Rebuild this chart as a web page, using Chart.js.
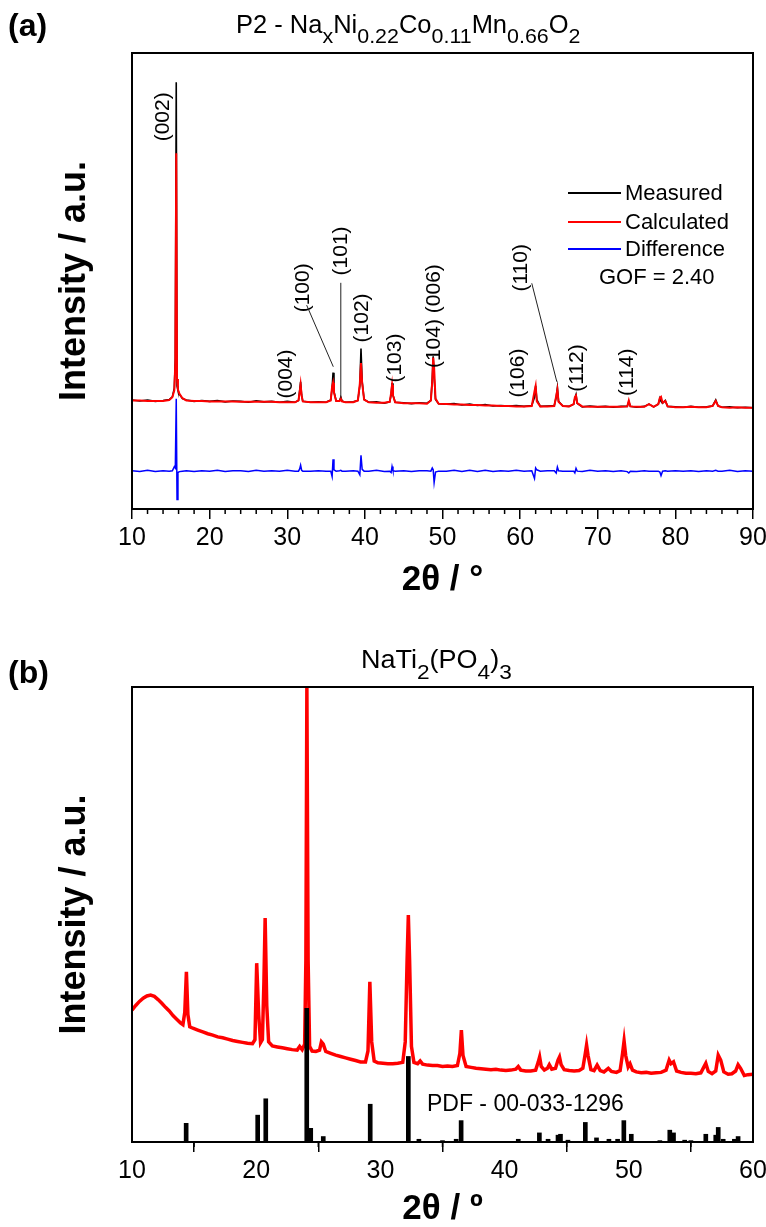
<!DOCTYPE html>
<html><head><meta charset="utf-8">
<script src="https://cdn.jsdelivr.net/npm/chart.js@4.4.1/dist/chart.umd.min.js"></script>
<style>
html,body{margin:0;padding:0;background:#fff;}
#wrap{position:relative;width:766px;height:1227px;background:#fff;}
canvas{position:absolute;left:0;}
</style></head><body>
<div id="wrap">
<canvas id="ca" width="766" height="615" style="top:0;width:766px;height:615px"></canvas>
<canvas id="cb" width="766" height="612" style="top:615px;width:766px;height:612px"></canvas>
</div>
<script>
const FONT = '"Liberation Sans", Arial, Helvetica, sans-serif';

// ---------- Panel (a): Rietveld refinement ----------
const twoThetaA = [10.0,11.0,12.0,13.0,14.0,14.8,15.2,15.45,15.58,15.7,15.8,15.92,16.1,16.5,17.0,18.0,19.0,20.0,21.0,22.0,23.0,24.0,25.0,26.0,27.0,28.0,29.0,30.0,31.0,31.45,31.6,31.72,31.85,32.0,33.0,34.0,35.0,35.6,35.78,35.9,36.02,36.3,36.75,36.9,37.05,37.5,38.5,39.1,39.35,39.5,39.65,39.9,40.5,41.5,42.5,43.2,43.38,43.5,43.62,43.9,45.0,46.0,47.0,48.0,48.5,48.68,48.8,48.92,49.1,49.5,50.5,51.5,52.5,53.5,54.5,55.5,56.5,57.5,58.5,59.5,60.5,61.5,61.85,62.0,62.15,62.6,63.5,64.4,64.65,64.8,64.95,65.5,66.3,66.9,67.05,67.2,67.35,68.0,69.0,70.0,71.0,72.0,73.0,73.8,74.0,74.2,75.0,76.0,76.6,77.2,77.8,78.0,78.15,78.35,78.7,79.0,80.0,81.0,82.0,83.0,84.0,84.8,85.2,85.5,86.0,87.0,88.0,89.0,90.0];
const measured = [23.9,23.7,23.9,23.6,23.8,24.0,24.6,26.5,33.0,93.6,27.0,26.0,25.2,24.2,23.9,23.6,23.8,23.6,23.8,23.5,23.7,23.6,23.4,23.7,23.5,23.6,23.4,23.6,23.4,23.8,26.0,27.9,25.0,23.6,23.4,23.5,23.4,23.9,26.5,29.9,25.8,23.7,23.8,24.5,23.7,23.4,23.5,23.8,27.0,35.2,28.0,24.0,23.4,23.5,23.2,23.5,25.0,27.6,25.0,23.4,23.3,23.1,23.3,23.2,23.8,28.5,33.5,29.0,24.0,23.1,23.0,23.1,22.8,23.0,22.7,22.9,22.6,22.7,22.6,22.7,22.5,22.7,24.5,27.0,24.0,22.5,22.6,22.7,24.5,26.6,23.6,22.6,22.5,23.0,24.3,25.1,23.2,22.4,22.6,22.4,22.5,22.3,22.5,22.5,23.6,22.5,22.3,22.5,23.0,22.4,23.0,24.3,23.6,23.2,23.8,22.5,22.4,22.3,22.5,22.3,22.4,22.6,23.9,22.6,22.3,22.4,22.2,22.3,22.2];
const calculated = [23.8,23.8,23.7,23.7,23.7,23.9,24.5,26.0,32.0,78.0,28.5,26.2,25.3,24.3,23.8,23.7,23.7,23.6,23.6,23.6,23.6,23.5,23.5,23.5,23.5,23.5,23.4,23.4,23.4,23.8,25.6,27.3,24.9,23.6,23.4,23.4,23.4,23.8,26.9,27.7,25.5,23.7,23.7,24.3,23.6,23.4,23.4,23.8,27.5,32.0,27.6,24.0,23.4,23.3,23.3,23.5,25.4,27.2,24.9,23.4,23.2,23.2,23.2,23.1,23.8,28.0,33.2,31.0,24.2,23.1,23.0,22.9,22.9,22.8,22.8,22.7,22.7,22.6,22.6,22.5,22.5,22.6,25.8,27.0,23.6,22.5,22.5,22.6,24.8,26.2,23.5,22.6,22.5,23.0,24.5,24.9,23.2,22.5,22.4,22.4,22.4,22.4,22.4,22.5,23.8,22.5,22.4,22.4,23.0,22.4,23.0,24.4,24.6,23.3,23.7,22.5,22.3,22.3,22.4,22.3,22.3,22.6,23.7,22.6,22.3,22.2,22.3,22.2,22.2];
const difference = [8.4,8.2,8.5,8.2,8.4,8.3,8.4,9.3,9.0,24.2,2.1,8.0,8.2,8.3,8.4,8.2,8.4,8.3,8.5,8.2,8.4,8.4,8.2,8.5,8.3,8.4,8.3,8.5,8.3,8.3,8.8,9.6,8.5,8.3,8.3,8.4,8.3,8.3,7.1,10.9,8.6,8.3,8.4,8.5,8.3,8.3,8.4,8.3,7.5,11.8,8.7,8.3,8.3,8.5,8.2,8.3,8.0,9.3,8.4,8.3,8.4,8.2,8.4,8.4,8.3,9.0,8.6,5.8,8.1,8.3,8.3,8.5,8.2,8.5,8.2,8.5,8.2,8.4,8.3,8.5,8.3,8.4,6.7,9.0,8.6,8.3,8.4,8.4,7.9,9.2,8.4,8.3,8.3,8.3,7.9,8.9,8.3,8.2,8.5,8.3,8.4,8.2,8.4,8.2,7.9,8.3,8.2,8.4,8.3,8.3,8.3,8.1,7.3,8.3,8.4,8.3,8.4,8.3,8.4,8.2,8.4,8.3,8.5,8.3,8.3,8.5,8.2,8.4,8.3];
const ticksA = [10,20,30,40,50,60,70,80,90];
const hklLabels = ['(002)','(004)','(100)','(101)','(102)','(103)','(104) (006)','(106)','(110)','(112)','(114)'];
const hklLabelX = [14.0,29.85,32.0,37.0,39.6,43.9,48.9,59.8,60.1,67.3,73.75];
const hklLabelY = [86.0,29.6,48.5,56.6,41.9,33.1,42.3,29.8,52.9,30.9,30.0];
const legendA = ['Measured','Calculated','Difference'];
const gofText = 'GOF = 2.40';

// ---------- Panel (b): NaTi2(PO4)3 ----------
const twoThetaB = [10.0,10.3,10.6,10.9,11.2,11.5,11.8,12.1,12.4,12.7,13.0,13.3,13.6,13.9,14.1,14.25,14.38,14.5,14.65,14.9,15.3,15.7,16.1,16.5,16.9,17.3,17.7,18.1,18.5,18.9,19.3,19.7,19.9,20.04,20.2,20.35,20.5,20.62,20.72,20.85,21.0,21.3,21.7,22.1,22.5,22.9,23.3,23.5,23.7,23.9,24.0,24.08,24.18,24.3,24.5,24.8,25.1,25.25,25.4,25.6,26.0,26.4,26.8,27.2,27.6,28.0,28.4,28.8,29.0,29.15,29.3,29.5,29.8,30.2,30.6,31.0,31.4,31.8,32.0,32.15,32.25,32.35,32.5,32.7,33.0,33.2,33.4,33.8,34.2,34.6,35.0,35.4,35.8,36.2,36.4,36.52,36.65,36.9,37.3,37.7,38.1,38.5,38.9,39.3,39.7,40.1,40.5,40.9,41.1,41.3,41.7,42.1,42.5,42.7,42.82,42.95,43.2,43.45,43.6,43.8,44.1,44.3,44.42,44.55,44.8,45.2,45.6,46.0,46.3,46.5,46.6,46.72,46.95,47.2,47.45,47.7,48.0,48.35,48.6,49.0,49.3,49.5,49.62,49.75,49.95,50.1,50.3,50.6,51.0,51.4,51.8,52.2,52.6,53.0,53.25,53.4,53.6,53.85,54.2,54.6,55.0,55.4,55.8,56.05,56.2,56.4,56.7,57.0,57.2,57.4,57.65,58.0,58.3,58.6,58.8,59.0,59.3,59.6,60.0];
const intensityB = [29.0,30.0,30.9,31.6,32.1,32.3,32.0,31.3,30.5,29.6,28.8,27.8,27.0,26.2,25.8,28.5,37.4,28.0,25.3,25.0,24.6,24.2,23.8,23.5,23.1,22.9,22.6,22.3,22.1,21.9,21.7,21.6,22.5,39.3,28.0,21.8,22.5,35.0,49.2,30.0,22.0,21.1,20.9,20.7,20.5,20.3,20.2,21.0,20.3,21.5,40.0,100.0,40.0,21.0,20.0,19.9,20.2,22.0,21.5,19.9,19.5,19.1,18.8,18.5,18.2,17.9,17.6,17.6,20.0,35.2,22.0,17.8,17.4,17.3,17.2,17.2,17.3,17.5,22.0,40.0,49.9,40.0,21.0,17.5,17.2,17.8,17.1,16.9,16.8,16.8,16.6,16.7,16.6,16.8,19.5,24.6,19.0,16.6,16.4,16.2,16.1,16.0,15.9,16.0,15.8,15.7,15.8,16.0,16.6,15.8,15.6,15.6,15.8,17.5,18.7,16.6,15.8,16.2,17.0,16.0,16.2,18.0,18.7,17.0,15.9,15.7,15.6,15.7,16.2,19.5,21.3,19.0,15.9,15.7,16.9,15.7,15.4,16.2,15.5,15.3,15.7,19.5,22.2,19.0,16.5,17.2,15.8,15.4,15.2,15.3,15.1,15.2,15.3,15.8,18.0,17.2,17.6,15.6,15.3,15.1,15.1,15.0,15.2,16.5,17.3,15.5,15.0,15.6,19.1,18.0,15.4,14.9,15.0,15.6,17.0,16.2,14.6,14.8,14.9];
const pdfPos = [14.36,20.12,20.77,24.07,24.39,25.4,29.18,32.25,33.1,35.0,36.1,36.5,41.1,42.8,43.5,44.3,44.5,45.1,46.5,47.4,48.4,49.1,49.6,50.2,52.5,53.3,53.6,54.5,55.0,56.2,57.0,57.2,57.6,58.5,58.8];
const pdfInt = [4.1,5.9,9.5,29.4,3.0,1.2,8.3,18.8,0.6,0.3,0.6,4.7,0.6,2.0,0.6,1.5,1.7,0.4,4.3,0.9,0.6,0.6,4.7,1.7,0.3,2.6,2.0,0.4,0.3,1.7,1.5,3.2,0.6,0.6,1.2];
const ticksB = [10,20,30,40,50,60];
const pdfLabel = 'PDF - 00-033-1296';

// ---------- helpers ----------
function richText(ctx, x, y, parts, sx) {
  ctx.save();
  ctx.translate(x, y);
  ctx.scale(sx || 1, 1);
  ctx.textAlign = 'left';
  ctx.textBaseline = 'alphabetic';
  ctx.fillStyle = '#000';
  let cx = 0;
  for (const [t, s, dy] of parts) {
    ctx.font = s + 'px ' + FONT;
    ctx.fillText(t, cx, dy);
    cx += ctx.measureText(t).width;
  }
  ctx.restore();
}
function framePlugin(minorStep, majorStep) {
  return {
    id: 'frame',
    afterDraw(chart) {
      const { ctx, chartArea: a } = chart;
      const x = chart.scales.x;
      ctx.save();
      ctx.strokeStyle = '#000';
      ctx.lineWidth = 2;
      ctx.strokeRect(a.left, a.top, a.right - a.left, a.bottom - a.top);
      ctx.lineWidth = 1.5;
      for (let v = x.min + minorStep; v < x.max; v += minorStep) {
        if (Math.abs(v / majorStep - Math.round(v / majorStep)) < 1e-6) continue;
        const px = x.getPixelForValue(v);
        ctx.beginPath();
        ctx.moveTo(px, a.bottom);
        ctx.lineTo(px, a.bottom + 5);
        ctx.stroke();
      }
      ctx.restore();
    }
  };
}
function xScale(min, max, ticks, title, height, titlePad) {
  return {
    type: 'linear', min, max,
    afterBuildTicks: (s) => { s.ticks = ticks.map(v => ({ value: v })); },
    ticks: { color: '#000', font: { family: FONT, size: 25 }, padding: 4, maxRotation: 0, autoSkip: false },
    grid: { display: true, drawOnChartArea: false, drawTicks: true, tickLength: 10, color: '#000', lineWidth: 1.5 },
    border: { display: false },
    title: { display: true, text: title, color: '#000', font: { family: FONT, size: 35, weight: 'bold', lineHeight: 1 }, padding: { top: 0, bottom: titlePad } },
    afterFit: (s) => { s.height = height; s.paddingLeft = 0; s.paddingRight = 0; }
  };
}
function yScale() {
  return {
    type: 'linear', min: 0, max: 100,
    ticks: { display: false },
    grid: { display: false },
    border: { display: false },
    title: { display: true, text: 'Intensity / a.u.', color: '#000', font: { family: FONT, size: 36, weight: 'bold', lineHeight: 1 }, padding: { top: 57, bottom: 0 } },
    afterFit: (s) => { s.width = 132; s.paddingTop = 0; s.paddingBottom = 0; }
  };
}
const pts = (xs, ys) => xs.map((v, i) => ({ x: v, y: ys[i] }));

// ---------- chart (a) ----------
const textA = {
  id: 'textA',
  afterDraw(chart) {
    const { ctx } = chart;
    const x = chart.scales.x, y = chart.scales.y;
    ctx.save();
    ctx.fillStyle = '#000';
    ctx.font = 'bold 32px ' + FONT;
    ctx.textAlign = 'left'; ctx.textBaseline = 'alphabetic';
    ctx.fillText('(a)', 8, 36);
    richText(ctx, 236, 33, [['P2 - Na', 25, 0], ['x', 21, 10], ['Ni', 25, 0], ['0.22', 21, 10], ['Co', 25, 0], ['0.11', 21, 10], ['Mn', 25, 0], ['0.66', 21, 10], ['O', 25, 0], ['2', 21, 10]], 1.02);
    ctx.font = '21px ' + FONT;
    ctx.fillStyle = '#000';
    ctx.textAlign = 'center'; ctx.textBaseline = 'middle';
    hklLabels.forEach((t, i) => {
      ctx.save();
      ctx.translate(x.getPixelForValue(hklLabelX[i]), y.getPixelForValue(hklLabelY[i]));
      ctx.rotate(-Math.PI / 2);
      ctx.fillText(t, 0, 0);
      ctx.restore();
    });
    ctx.strokeStyle = '#222'; ctx.lineWidth = 1;
    const lead = (a, b, c, d) => { ctx.beginPath(); ctx.moveTo(x.getPixelForValue(a), y.getPixelForValue(b)); ctx.lineTo(x.getPixelForValue(c), y.getPixelForValue(d)); ctx.stroke(); };
    lead(32.5, 44.7, 35.93, 31.2);
    lead(36.9, 49.6, 36.9, 24.3);
    lead(61.5, 49.5, 64.73, 27.9);
    const cols = ['#000000', '#ff0000', '#0000ff'];
    const ly = [193, 222, 249];
    ctx.font = '22px ' + FONT;
    ctx.textAlign = 'left'; ctx.textBaseline = 'middle';
    legendA.forEach((t, i) => {
      ctx.strokeStyle = cols[i]; ctx.lineWidth = 2;
      ctx.beginPath(); ctx.moveTo(568, ly[i]); ctx.lineTo(621, ly[i]); ctx.stroke();
      ctx.fillStyle = '#000';
      ctx.fillText(t, 625, ly[i] + 1);
    });
    ctx.fillText(gofText, 599, 278);
    ctx.restore();
  }
};
new Chart(document.getElementById('ca'), {
  type: 'line',
  data: {
    datasets: [
      { label: 'Calculated', data: pts(twoThetaA, calculated), borderColor: '#ff0000', borderWidth: 2, pointRadius: 0, tension: 0, order: 1 },
      { label: 'Measured', data: pts(twoThetaA, measured), borderColor: '#000000', borderWidth: 1.6, pointRadius: 0, tension: 0, order: 2 },
      { label: 'Difference', data: pts(twoThetaA, difference), borderColor: '#0000ff', borderWidth: 1.5, pointRadius: 0, tension: 0, order: 3 }
    ]
  },
  options: {
    responsive: false, animation: false, devicePixelRatio: 1,
    layout: { padding: { top: 53, right: 13, left: 0, bottom: 0 } },
    plugins: { legend: { display: false }, tooltip: { enabled: false }, title: { display: false } },
    scales: { x: xScale(10, 90, ticksA, '2θ / °', 106, 17), y: yScale() }
  },
  plugins: [framePlugin(2, 10), textA]
});

// ---------- chart (b) ----------
const textB = {
  id: 'textB',
  afterDraw(chart) {
    const { ctx } = chart;
    const x = chart.scales.x, y = chart.scales.y;
    ctx.save();
    ctx.fillStyle = '#000';
    ctx.font = 'bold 32px ' + FONT;
    ctx.textAlign = 'left'; ctx.textBaseline = 'alphabetic';
    ctx.fillText('(b)', 8, 68);
    richText(ctx, 361, 53, [['NaTi', 25, 0], ['2', 21, 11], ['(PO', 25, 0], ['4', 21, 11], [')', 25, 0], ['3', 21, 11]], 1.08);
    ctx.font = '23px ' + FONT;
    ctx.fillStyle = '#000';
    ctx.textAlign = 'left'; ctx.textBaseline = 'middle';
    ctx.fillText(pdfLabel, x.getPixelForValue(33.75), y.getPixelForValue(8.1));
    ctx.restore();
  }
};
new Chart(document.getElementById('cb'), {
  type: 'line',
  data: {
    datasets: [
      { type: 'bar', label: 'PDF 00-033-1296', data: pts(pdfPos, pdfInt), backgroundColor: '#000', borderWidth: 0, barThickness: 4, order: 1 },
      { type: 'line', label: 'NaTi2(PO4)3', data: pts(twoThetaB, intensityB), borderColor: '#ff0000', borderWidth: 3.5, pointRadius: 0, tension: 0, order: 2 }
    ]
  },
  options: {
    responsive: false, animation: false, devicePixelRatio: 1,
    layout: { padding: { top: 72, right: 13, left: 0, bottom: 0 } },
    plugins: { legend: { display: false }, tooltip: { enabled: false }, title: { display: false } },
    scales: { x: Object.assign(xScale(10, 60, ticksB, '2θ / º', 85, 0), { offset: false }), y: yScale() }
  },
  plugins: [framePlugin(5, 10), textB]
});
</script>
</body></html>
